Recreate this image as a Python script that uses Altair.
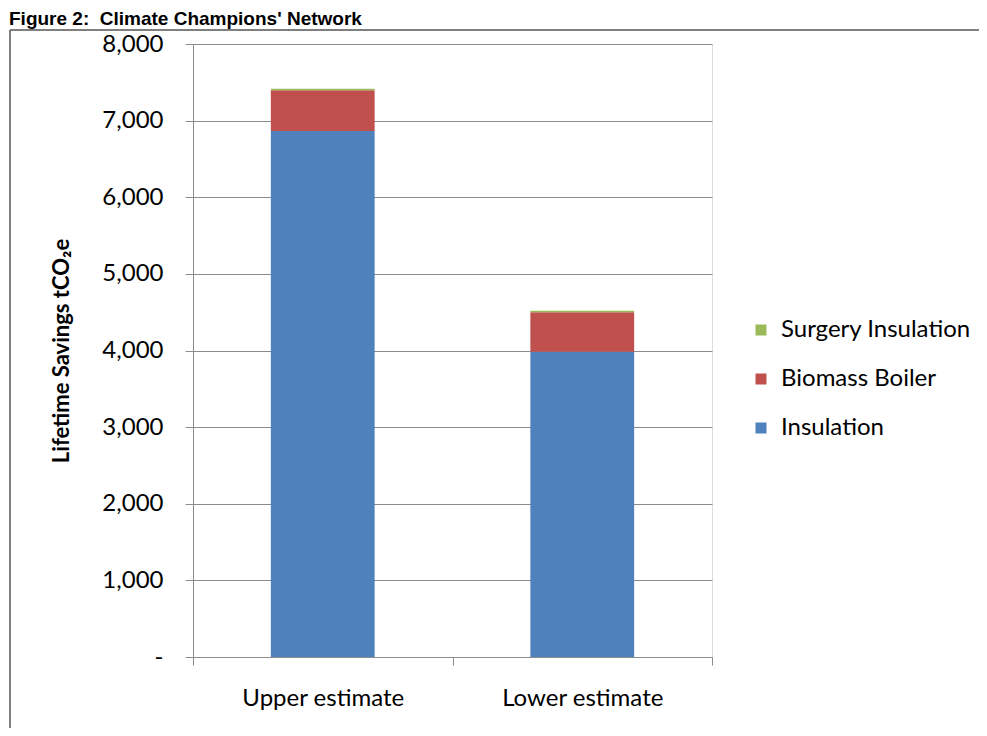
import altair as alt
import pandas as pd

estimates = ["Upper estimate", "Lower estimate"]
series = ["Insulation", "Biomass Boiler", "Surgery Insulation"]
insulation = [6865, 3985]
biomass = [530, 515]
surgery = [20, 18]
colors = ["#4F81BD", "#C0504D", "#9BBB59"]
y_ticks = [0, 1000, 2000, 3000, 4000, 5000, 6000, 7000, 8000]
fig_title = "Figure 2:\u00a0\u00a0Climate Champions' Network"
y_title = "Lifetime Savings tCO₂e"

rows = []
for i, e in enumerate(estimates):
    for k, (s, vals) in enumerate(zip(series, [insulation, biomass, surgery])):
        rows.append({"estimate": e, "series": s, "value": vals[i], "order": k})
df = pd.DataFrame(rows)

FONT = "Lato"
GRID = "#8c8c8c"

bars = alt.Chart(df).mark_bar(stroke=None, width={"band": 0.4}).encode(
    x=alt.X("estimate:N", sort=estimates, title=None,
            scale=alt.Scale(paddingInner=0, paddingOuter=0),
            axis=alt.Axis(labelAngle=0, labelFont=FONT, labelFontSize=24,
                          labelColor="#000", labelPadding=21, tickBand="extent",
                          tickSize=8, tickColor=GRID, domainColor=GRID,
                          grid=False)),
    y=alt.Y("value:Q", stack="zero", title=y_title,
            scale=alt.Scale(domain=[0, 8000], nice=False),
            axis=alt.Axis(values=y_ticks, labelExpr="datum.value == 0 ? '-' : format(datum.value, ',')",
                          labelFont=FONT, labelFontSize=24, labelColor="#000",
                          labelPadding=22, tickSize=8, tickColor=GRID,
                          gridColor=GRID, domainColor=GRID,
                          titleFont=FONT, titleFontSize=22, titleFontWeight="bold",
                          titleColor="#000", titlePadding=28)),
    color=alt.Color("series:N", sort=series[::-1],
                    scale=alt.Scale(domain=series[::-1], range=colors[::-1]),
                    legend=alt.Legend(title=None, orient="none", legendX=556, legendY=274,
                                      symbolType="square", symbolSize=121,
                                      symbolStrokeWidth=0, labelLimit=400,
                                      labelFont=FONT, labelFontSize=24, labelColor="#000",
                                      rowPadding=25, labelOffset=8)),
    order=alt.Order("order:Q"),
)

anno = pd.DataFrame({"t": [fig_title]})
title_txt = alt.Chart(anno).mark_text(
    align="left", baseline="alphabetic", font="Liberation Sans",
    fontSize=19, fontWeight="bold", color="#000"
).encode(x=alt.value(-184), y=alt.value(-19), text="t:N")

frame_left = alt.Chart(anno).mark_rule(color="#7f7f7f", strokeWidth=2).encode(
    x=alt.value(-183), y=alt.value(-14), y2=alt.value(700))
frame_top = alt.Chart(anno).mark_rule(color="#7f7f7f", strokeWidth=2).encode(
    x=alt.value(-183), x2=alt.value(800), y=alt.value(-14))

chart = alt.layer(bars, frame_left, frame_top, title_txt).properties(
    width=519, height=613,
    autosize=alt.AutoSizeParams(type="none"),
    padding={"left": 185, "top": 36, "right": 267, "bottom": 71},
).configure_view(stroke=None).configure(background="white")

chart.save("out.html", embed_options={"renderer": "svg", "actions": False})
